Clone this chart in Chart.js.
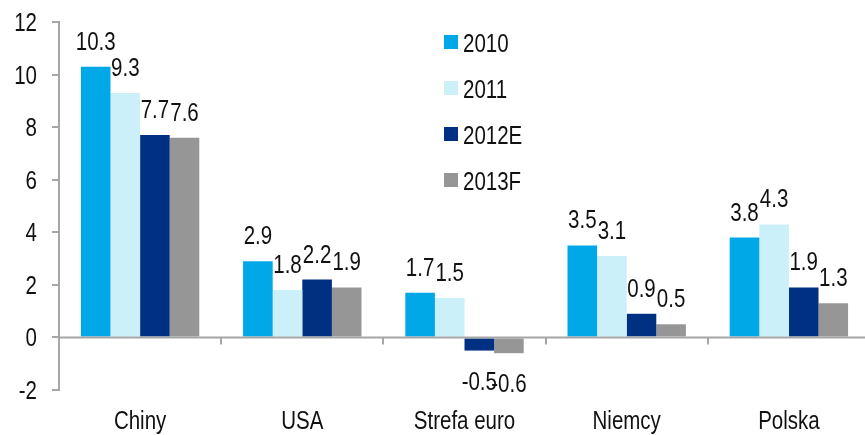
<!DOCTYPE html>
<html>
<head>
<meta charset="utf-8">
<script src="https://cdn.jsdelivr.net/npm/chart.js@4"></script>
<style>
  html, body { margin: 0; padding: 0; background: #fff; overflow: hidden; }
  #wrap { width: 865px; height: 435px; overflow: hidden; }
</style>
</head>
<body>
<div id="wrap"><canvas id="gdpChart" width="870" height="435"></canvas></div>
<script>
const categories = ['Chiny', 'USA', 'Strefa euro', 'Niemcy', 'Polska'];
const seriesNames = ['2010', '2011', '2012E', '2013F'];
const values2010 = [10.3, 2.9, 1.7, 3.5, 3.8];
const values2011 = [9.3, 1.8, 1.5, 3.1, 4.3];
const values2012 = [7.7, 2.2, -0.5, 0.9, 1.9];
const values2013 = [7.6, 1.9, -0.6, 0.5, 1.3];
const seriesColors = ['#00a8e8', '#ccf0fa', '#003082', '#969696'];

const axisGray = '#a6a6a6';
const textColor = '#111';
const fontFamily = '"Liberation Sans", Arial, sans-serif';
const fontSize = 25;
const squeeze = 0.82; // the original font is a narrow one

// draw condensed text, baseline alphabetic
function narrowText(ctx, text, x, y, align) {
    ctx.save();
    ctx.translate(x, y);
    ctx.scale(squeeze, 1);
    ctx.textAlign = align;
    ctx.textBaseline = 'alphabetic';
    ctx.fillText(text, 0, 0);
    ctx.restore();
}

// value labels over/under bars
const valueLabels = {
    id: 'valueLabels',
    afterDatasetsDraw(chart) {
        const ctx = chart.ctx;
        ctx.save();
        ctx.font = fontSize + 'px ' + fontFamily;
        ctx.fillStyle = textColor;
        chart.data.datasets.forEach((ds, i) => {
            chart.getDatasetMeta(i).data.forEach((bar, j) => {
                const v = ds.data[j];
                const ty = v >= 0 ? bar.y - 17 : bar.y + 39;
                narrowText(ctx, v.toFixed(1), bar.x, ty, 'center');
            });
        });
        ctx.restore();
    }
};

// tick labels, zero line, category ticks and legend
const axisExtras = {
    id: 'axisExtras',
    afterDraw(chart) {
        const ctx = chart.ctx;
        const x = chart.scales.x;
        const y = chart.scales.y;
        const y0 = y.getPixelForValue(0);
        ctx.save();
        ctx.strokeStyle = axisGray;
        ctx.lineWidth = 2;
        ctx.beginPath();
        ctx.moveTo(chart.chartArea.left, y0);
        ctx.lineTo(chart.chartArea.right, y0);
        const step = (x.right - x.left) / categories.length;
        for (let k = 1; k < categories.length; k++) {
            const px = Math.round(x.left + k * step);
            ctx.moveTo(px, y0);
            ctx.lineTo(px, y0 + 7);
        }
        ctx.stroke();

        ctx.font = fontSize + 'px ' + fontFamily;
        ctx.fillStyle = textColor;
        y.ticks.forEach(t => {
            narrowText(ctx, String(t.value), 37, y.getPixelForValue(t.value) + 9, 'right');
        });
        categories.forEach((c, i) => {
            narrowText(ctx, c, x.getPixelForValue(i), 429, 'center');
        });

        seriesNames.forEach((name, i) => {
            const cy = 42 + i * 46;
            ctx.fillStyle = seriesColors[i];
            ctx.fillRect(444, cy - 7, 14, 14);
            ctx.fillStyle = textColor;
            narrowText(ctx, name, 463, cy + 10, 'left');
        });
        ctx.restore();
    }
};

const datasets = [values2010, values2011, values2012, values2013].map((vals, i) => ({
    label: seriesNames[i],
    data: vals,
    backgroundColor: seriesColors[i],
    borderWidth: 0,
    barPercentage: 1,
    categoryPercentage: 0.73
}));

new Chart(document.getElementById('gdpChart'), {
    type: 'bar',
    data: { labels: categories, datasets: datasets },
    options: {
        responsive: false,
        animation: false,
        layout: { padding: { top: 22, right: 0, left: 0, bottom: 0 } },
        plugins: {
            legend: { display: false },
            tooltip: { enabled: false }
        },
        scales: {
            x: {
                grid: { display: false },
                border: { display: false },
                ticks: { display: false },
                afterFit(scale) { scale.height = 45; }
            },
            y: {
                min: -2,
                max: 12,
                ticks: { stepSize: 2, display: false },
                grid: {
                    drawOnChartArea: false,
                    drawTicks: true,
                    tickLength: 7,
                    color: axisGray,
                    lineWidth: 2
                },
                border: { display: true, color: axisGray, width: 2 },
                afterFit(scale) { scale.width = 59; }
            }
        }
    },
    plugins: [valueLabels, axisExtras]
});
</script>
</body>
</html>
